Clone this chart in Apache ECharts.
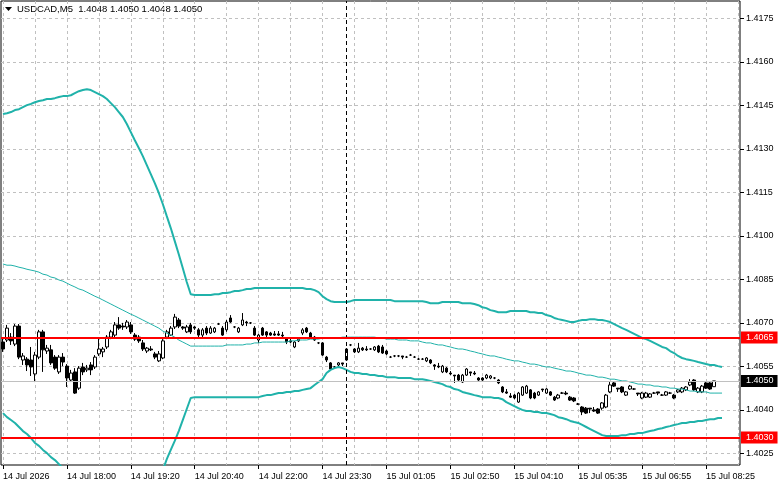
<!DOCTYPE html>
<html>
<head>
<meta charset="utf-8">
<script src="https://cdn.jsdelivr.net/npm/echarts@6/dist/echarts.min.js"></script>
<style>
  html, body { margin: 0; padding: 0; background: #fff; }
  #main { width: 781px; height: 489px; }
</style>
</head>
<body>
<div id="main"></div>
<script>
var myChart = echarts.init(document.getElementById('main'));

// USDCAD M5, bars are [open, close, low, high]
var candles = [
  [1.40634,1.40610,1.40600,1.40648],[1.40641,1.40682,1.40634,1.40693],[1.40651,1.40638,1.40624,1.40665],[1.40627,1.40689,1.40620,1.40696],[1.40689,1.40582,1.40575,1.40696],
  [1.40572,1.40586,1.40555,1.40596],[1.40575,1.40555,1.40534,1.40582],[1.40572,1.40548,1.40517,1.40617],[1.40524,1.40589,1.40496,1.40600],[1.40582,1.40669,1.40575,1.40676],
  [1.40669,1.40607,1.40531,1.40676],[1.40603,1.40613,1.40593,1.40624],[1.40607,1.40562,1.40555,1.40624],[1.40582,1.40544,1.40538,1.40589],[1.40531,1.40582,1.40524,1.40589],
  [1.40582,1.40565,1.40551,1.40596],[1.40551,1.40510,1.40479,1.40558],[1.40503,1.40527,1.40496,1.40538],[1.40531,1.40458,1.40455,1.40544],[1.40475,1.40544,1.40469,1.40551],
  [1.40548,1.40531,1.40520,1.40562],[1.40538,1.40544,1.40531,1.40555],[1.40555,1.40538,1.40520,1.40565],[1.40548,1.40582,1.40541,1.40589],[1.40593,1.40610,1.40586,1.40651],
  [1.40600,1.40610,1.40582,1.40617],[1.40617,1.40651,1.40610,1.40658],[1.40651,1.40669,1.40644,1.40676],[1.40658,1.40693,1.40651,1.40703],[1.40693,1.40682,1.40676,1.40720],
  [1.40689,1.40686,1.40676,1.40700],[1.40686,1.40703,1.40679,1.40710],[1.40693,1.40669,1.40662,1.40703],[1.40658,1.40644,1.40638,1.40665],[1.40651,1.40638,1.40631,1.40658],
  [1.40631,1.40610,1.40603,1.40641],[1.40603,1.40613,1.40596,1.40617],[1.40610,1.40607,1.40603,1.40620],[1.40593,1.40582,1.40575,1.40600],[1.40569,1.40593,1.40565,1.40603],
  [1.40579,1.40638,1.40575,1.40644],[1.40651,1.40669,1.40644,1.40676],[1.40658,1.40682,1.40655,1.40689],[1.40686,1.40720,1.40679,1.40731],[1.40710,1.40689,1.40682,1.40717],
  [1.40686,1.40682,1.40676,1.40689],[1.40669,1.40686,1.40665,1.40693],[1.40693,1.40669,1.40662,1.40700],[1.40686,1.40682,1.40676,1.40689],[1.40676,1.40658,1.40651,1.40682],
  [1.40658,1.40676,1.40651,1.40682],[1.40682,1.40665,1.40658,1.40689],[1.40665,1.40682,1.40662,1.40689],[1.40669,1.40682,1.40665,1.40686],[1.40696,1.40696,1.40693,1.40700],
  [1.40682,1.40658,1.40655,1.40689],[1.40676,1.40703,1.40669,1.40710],[1.40717,1.40703,1.40700,1.40727],[1.40686,1.40686,1.40682,1.40689],[1.40669,1.40682,1.40665,1.40686],
  [1.40693,1.40710,1.40689,1.40734],[1.40703,1.40700,1.40689,1.40707],[1.40700,1.40700,1.40696,1.40703],[1.40682,1.40658,1.40655,1.40689],[1.40641,1.40658,1.40631,1.40662],
  [1.40682,1.40658,1.40655,1.40686],[1.40669,1.40658,1.40651,1.40672],[1.40665,1.40658,1.40655,1.40669],[1.40662,1.40658,1.40655,1.40672],[1.40662,1.40658,1.40655,1.40672],
  [1.40658,1.40655,1.40651,1.40669],[1.40648,1.40634,1.40627,1.40651],[1.40638,1.40634,1.40631,1.40648],[1.40617,1.40634,1.40613,1.40638],[1.40638,1.40644,1.40634,1.40651],
  [1.40665,1.40676,1.40658,1.40682],[1.40682,1.40669,1.40665,1.40686],[1.40665,1.40651,1.40648,1.40669],[1.40651,1.40641,1.40638,1.40655],[1.40631,1.40631,1.40627,1.40634],
  [1.40631,1.40589,1.40586,1.40634],[1.40582,1.40572,1.40565,1.40586],[1.40562,1.40541,1.40538,1.40565],[1.40548,1.40548,1.40544,1.40551],[1.40555,1.40562,1.40551,1.40565],
  [1.40562,1.40558,1.40551,1.40562],[1.40572,1.40610,1.40569,1.40613],[1.40624,1.40624,1.40620,1.40627],[1.40610,1.40600,1.40596,1.40613],[1.40600,1.40613,1.40596,1.40631],
  [1.40613,1.40607,1.40603,1.40617],[1.40610,1.40607,1.40603,1.40620],[1.40610,1.40610,1.40607,1.40613],[1.40607,1.40617,1.40603,1.40620],[1.40620,1.40600,1.40596,1.40624],
  [1.40617,1.40596,1.40593,1.40624],[1.40603,1.40593,1.40589,1.40607],[1.40582,1.40582,1.40579,1.40586],[1.40586,1.40586,1.40582,1.40589],[1.40586,1.40586,1.40582,1.40589],
  [1.40586,1.40582,1.40575,1.40586],[1.40582,1.40582,1.40579,1.40586],[1.40589,1.40589,1.40586,1.40593],[1.40582,1.40582,1.40579,1.40586],[1.40575,1.40575,1.40572,1.40579],
  [1.40575,1.40575,1.40572,1.40579],[1.40569,1.40579,1.40565,1.40582],[1.40572,1.40562,1.40558,1.40575],[1.40555,1.40551,1.40538,1.40558],[1.40551,1.40548,1.40544,1.40562],
  [1.40531,1.40551,1.40527,1.40555],[1.40544,1.40531,1.40527,1.40548],[1.40527,1.40524,1.40520,1.40534],[1.40520,1.40517,1.40493,1.40520],[1.40520,1.40503,1.40500,1.40524],
  [1.40496,1.40520,1.40493,1.40524],[1.40520,1.40541,1.40517,1.40544],[1.40531,1.40527,1.40517,1.40531],[1.40527,1.40524,1.40520,1.40534],[1.40510,1.40503,1.40500,1.40513],
  [1.40510,1.40503,1.40500,1.40513],[1.40510,1.40520,1.40506,1.40524],[1.40510,1.40517,1.40506,1.40520],[1.40510,1.40510,1.40506,1.40513],[1.40503,1.40493,1.40489,1.40506],
  [1.40479,1.40462,1.40458,1.40482],[1.40462,1.40458,1.40455,1.40472],[1.40448,1.40444,1.40441,1.40458],[1.40451,1.40441,1.40437,1.40455],[1.40427,1.40458,1.40424,1.40462],
  [1.40451,1.40479,1.40448,1.40482],[1.40458,1.40482,1.40455,1.40486],[1.40469,1.40441,1.40437,1.40472],[1.40458,1.40441,1.40437,1.40462],[1.40451,1.40462,1.40448,1.40465],
  [1.40472,1.40469,1.40462,1.40472],[1.40458,1.40472,1.40455,1.40475],[1.40462,1.40451,1.40448,1.40465],[1.40444,1.40434,1.40431,1.40448],[1.40441,1.40451,1.40437,1.40455],
  [1.40458,1.40458,1.40455,1.40462],[1.40458,1.40455,1.40451,1.40465],[1.40444,1.40434,1.40431,1.40448],[1.40441,1.40431,1.40427,1.40444],[1.40420,1.40420,1.40417,1.40424],
  [1.40410,1.40393,1.40382,1.40413],[1.40406,1.40389,1.40386,1.40410],[1.40406,1.40403,1.40389,1.40406],[1.40400,1.40396,1.40393,1.40410],[1.40403,1.40389,1.40386,1.40406],
  [1.40406,1.40424,1.40400,1.40427],[1.40410,1.40451,1.40406,1.40455],[1.40462,1.40486,1.40458,1.40496],[1.40493,1.40482,1.40479,1.40496],[1.40475,1.40472,1.40462,1.40475],
  [1.40479,1.40462,1.40458,1.40482],[1.40451,1.40462,1.40448,1.40465],[1.40472,1.40482,1.40469,1.40486],[1.40472,1.40472,1.40469,1.40475],[1.40458,1.40455,1.40448,1.40458],
  [1.40441,1.40458,1.40437,1.40462],[1.40444,1.40458,1.40441,1.40462],[1.40444,1.40455,1.40441,1.40458],[1.40458,1.40458,1.40455,1.40462],[1.40462,1.40458,1.40451,1.40462],
  [1.40451,1.40451,1.40448,1.40455],[1.40451,1.40462,1.40448,1.40465],[1.40458,1.40458,1.40455,1.40462],[1.40451,1.40441,1.40437,1.40455],[1.40462,1.40469,1.40458,1.40472],
  [1.40462,1.40475,1.40458,1.40479],[1.40469,1.40479,1.40465,1.40482],[1.40486,1.40496,1.40482,1.40506],[1.40503,1.40469,1.40465,1.40506],[1.40462,1.40475,1.40458,1.40479],
  [1.40462,1.40482,1.40458,1.40486],[1.40493,1.40475,1.40472,1.40496],[1.40493,1.40472,1.40469,1.40496],[1.40480,1.40500,1.40480,1.40500]
];

// bollinger bands (upper / middle / lower)
var upperBand = [
  1.41420,1.41423,1.41427,1.41434,1.41437,1.41444,1.41451,1.41455,1.41461,1.41465,
  1.41468,1.41472,1.41472,1.41475,1.41479,1.41482,1.41482,1.41485,1.41492,1.41499,
  1.41503,1.41506,1.41503,1.41496,1.41489,1.41482,1.41472,1.41458,1.41444,1.41427,
  1.41410,1.41386,1.41358,1.41330,1.41303,1.41275,1.41244,1.41213,1.41182,1.41148,
  1.41110,1.41068,1.41027,1.40982,1.40937,1.40889,1.40841,1.40799,1.40796,1.40796,
  1.40796,1.40796,1.40796,1.40799,1.40799,1.40803,1.40803,1.40806,1.40810,1.40810,
  1.40813,1.40817,1.40817,1.40820,1.40820,1.40820,1.40820,1.40820,1.40820,1.40820,
  1.40820,1.40820,1.40820,1.40820,1.40820,1.40820,1.40817,1.40817,1.40813,1.40806,
  1.40792,1.40782,1.40775,1.40772,1.40772,1.40772,1.40772,1.40775,1.40779,1.40779,
  1.40779,1.40779,1.40779,1.40779,1.40779,1.40779,1.40779,1.40779,1.40775,1.40775,
  1.40775,1.40775,1.40775,1.40775,1.40775,1.40775,1.40772,1.40768,1.40768,1.40768,
  1.40772,1.40772,1.40772,1.40772,1.40772,1.40768,1.40768,1.40768,1.40765,1.40761,
  1.40754,1.40751,1.40744,1.40741,1.40737,1.40737,1.40737,1.40741,1.40741,1.40741,
  1.40741,1.40741,1.40737,1.40737,1.40734,1.40734,1.40727,1.40724,1.40717,1.40713,
  1.40710,1.40707,1.40703,1.40703,1.40707,1.40710,1.40710,1.40713,1.40713,1.40710,
  1.40710,1.40707,1.40703,1.40696,1.40689,1.40682,1.40676,1.40669,1.40662,1.40655,
  1.40648,1.40644,1.40638,1.40631,1.40624,1.40617,1.40613,1.40603,1.40596,1.40586,
  1.40579,1.40575,1.40572,1.40569,1.40565,1.40562,1.40558,1.40555,1.40555,1.40551,
  1.40548
];
var middleBand = [
  1.40903,1.40899,1.40899,1.40896,1.40892,1.40889,1.40885,1.40882,1.40879,1.40875,
  1.40868,1.40865,1.40858,1.40855,1.40848,1.40844,1.40837,1.40830,1.40824,1.40817,
  1.40813,1.40806,1.40799,1.40792,1.40786,1.40779,1.40772,1.40765,1.40758,1.40751,
  1.40744,1.40737,1.40730,1.40724,1.40717,1.40710,1.40703,1.40696,1.40689,1.40682,
  1.40672,1.40665,1.40658,1.40651,1.40641,1.40634,1.40627,1.40620,1.40620,1.40620,
  1.40620,1.40620,1.40620,1.40620,1.40620,1.40620,1.40624,1.40624,1.40624,1.40624,
  1.40624,1.40627,1.40627,1.40631,1.40631,1.40634,1.40634,1.40634,1.40634,1.40634,
  1.40634,1.40634,1.40638,1.40638,1.40641,1.40641,1.40641,1.40644,1.40644,1.40644,
  1.40648,1.40648,1.40648,1.40648,1.40648,1.40651,1.40651,1.40651,1.40651,1.40651,
  1.40651,1.40651,1.40651,1.40651,1.40648,1.40648,1.40644,1.40644,1.40644,1.40641,
  1.40641,1.40641,1.40638,1.40638,1.40638,1.40634,1.40631,1.40631,1.40627,1.40624,
  1.40624,1.40620,1.40617,1.40613,1.40610,1.40610,1.40607,1.40603,1.40600,1.40596,
  1.40593,1.40589,1.40586,1.40586,1.40582,1.40579,1.40575,1.40572,1.40569,1.40569,
  1.40565,1.40562,1.40558,1.40558,1.40555,1.40551,1.40548,1.40548,1.40544,1.40541,
  1.40538,1.40534,1.40534,1.40531,1.40527,1.40524,1.40520,1.40520,1.40517,1.40513,
  1.40513,1.40510,1.40506,1.40506,1.40503,1.40500,1.40500,1.40496,1.40493,1.40489,
  1.40489,1.40486,1.40486,1.40482,1.40482,1.40479,1.40479,1.40475,1.40475,1.40472,
  1.40472,1.40469,1.40465,1.40465,1.40462,1.40462,1.40462,1.40458,1.40458,1.40458,
  1.40458
];
var lowerBand = [
  1.40389,1.40375,1.40365,1.40355,1.40341,1.40327,1.40317,1.40303,1.40286,1.40276,
  1.40262,1.40251,1.40237,1.40227,1.40213,1.40199,1.40185,1.40168,1.40151,1.40134,
  1.40120,1.40106,1.40096,1.40086,1.40079,1.40072,1.40068,1.40068,1.40068,1.40072,
  1.40075,1.40082,1.40089,1.40096,1.40106,1.40117,1.40127,1.40137,1.40148,1.40161,
  1.40192,1.40230,1.40262,1.40293,1.40327,1.40365,1.40403,1.40441,1.40444,1.40444,
  1.40444,1.40444,1.40444,1.40444,1.40444,1.40444,1.40444,1.40444,1.40444,1.40444,
  1.40444,1.40444,1.40444,1.40444,1.40444,1.40448,1.40451,1.40451,1.40455,1.40458,
  1.40458,1.40462,1.40462,1.40465,1.40465,1.40469,1.40472,1.40475,1.40486,1.40496,
  1.40506,1.40527,1.40538,1.40544,1.40548,1.40544,1.40538,1.40531,1.40527,1.40527,
  1.40524,1.40524,1.40520,1.40520,1.40517,1.40517,1.40513,1.40513,1.40513,1.40510,
  1.40510,1.40510,1.40510,1.40506,1.40506,1.40506,1.40503,1.40500,1.40496,1.40493,
  1.40489,1.40482,1.40479,1.40472,1.40469,1.40462,1.40458,1.40455,1.40451,1.40448,
  1.40444,1.40444,1.40444,1.40441,1.40441,1.40437,1.40427,1.40420,1.40413,1.40406,
  1.40400,1.40396,1.40396,1.40393,1.40393,1.40389,1.40389,1.40386,1.40382,1.40375,
  1.40372,1.40368,1.40362,1.40358,1.40355,1.40348,1.40341,1.40334,1.40327,1.40320,
  1.40313,1.40310,1.40310,1.40310,1.40310,1.40313,1.40313,1.40317,1.40317,1.40320,
  1.40320,1.40324,1.40327,1.40330,1.40334,1.40337,1.40341,1.40344,1.40348,1.40351,
  1.40355,1.40355,1.40358,1.40358,1.40362,1.40362,1.40365,1.40368,1.40368,1.40372,
  1.40372
];

var timeLabels = ['14 Jul 2026', '14 Jul 18:00', '14 Jul 19:20', '14 Jul 20:40', '14 Jul 22:00', '14 Jul 23:30',
  '15 Jul 01:05', '15 Jul 02:50', '15 Jul 04:10', '15 Jul 05:35', '15 Jul 06:55', '15 Jul 08:25'];
var priceTicks = [1.4025, 1.4040, 1.4055, 1.4070, 1.4085, 1.4100, 1.4115, 1.4130, 1.4145, 1.4160, 1.4175];
var levelPrices = [1.4065, 1.40305];
var levelTexts = ['1.4065', '1.4030'];
var bidPrice = 1.4050;
var separatorBar = 86;
var slotCount = 185; // bars + empty shift space on the right

var slots = [];
for (var i = 0; i < slotCount; i++) slots.push(String(i));

var font = 'Liberation Sans';
var bandColor = '#20b2aa';
var gridLine = { color: '#c0c0c0', type: [3, 3], width: 1 };

function priceTag(text, bg) {
  return {
    show: true, position: 'end', distance: 1, formatter: text,
    color: '#fff', backgroundColor: bg, padding: [2, 4, 1, 5],
    fontFamily: font, fontSize: 9
  };
}

var levelMarks = levelPrices.map(function (p, k) {
  return { yAxis: p, lineStyle: { color: '#ff0000', width: 2, type: 'solid' }, label: priceTag(levelTexts[k], '#ff0000') };
});

myChart.setOption({
  backgroundColor: '#fff',
  animation: false,
  grid: { left: 1, top: 1, width: 739, height: 464, show: true, borderColor: '#000', borderWidth: 1, backgroundColor: 'transparent' },
  graphic: [
    { type: 'polygon', shape: { points: [[5, 7], [12, 7], [8.5, 11]] }, style: { fill: '#000' } },
    { type: 'text', left: 17, top: 4, style: { text: 'USDCAD,M5  1.4048 1.4050 1.4048 1.4050', fill: '#000', font: '9.5px "Liberation Sans"' } }
  ],
  xAxis: {
    type: 'category',
    data: slots,
    boundaryGap: true,
    axisLine: { show: false },
    axisTick: { show: true, interval: 15, alignWithLabel: true, length: 4, lineStyle: { color: '#000' } },
    axisLabel: {
      interval: 15, align: 'left', margin: 7, color: '#000', fontFamily: font, fontSize: 9,
      formatter: function (v, idx) { return timeLabels[idx / 16] || ''; }
    },
    splitLine: { show: true, interval: 7, alignWithLabel: true, lineStyle: gridLine }
  },
  yAxis: {
    type: 'value',
    position: 'right',
    min: 1.40210,
    max: 1.41810,
    axisLine: { show: false },
    axisTick: { show: true, customValues: priceTicks, length: 4, lineStyle: { color: '#000' } },
    axisLabel: {
      customValues: priceTicks, margin: 6, color: '#000', fontFamily: font, fontSize: 9,
      formatter: function (v) { return v.toFixed(4); }
    },
    splitLine: { show: true, lineStyle: gridLine }
  },
  series: [
    {
      type: 'candlestick',
      name: 'USDCAD',
      data: candles,
      barWidth: 3,
      silent: true,
      itemStyle: { color: '#fff', color0: '#000', borderColor: '#000', borderColor0: '#000', borderColorDoji: '#000', borderWidth: 1 },
      markLine: {
        silent: true, symbol: ['none', 'none'], animation: false, precision: 5,
        data: [
          { yAxis: bidPrice, lineStyle: { color: '#c0c0c0', width: 1, type: 'solid' }, label: priceTag('1.4050', '#000') },
          { xAxis: String(separatorBar), lineStyle: { color: '#000', width: 1, type: [4, 3] }, label: { show: false } }
        ]
      }
    },
    { type: 'line', data: upperBand, showSymbol: false, silent: true, lineStyle: { color: bandColor, width: 2 } },
    {
      type: 'line', data: middleBand, showSymbol: false, silent: true, lineStyle: { color: bandColor, width: 1 },
      markLine: { silent: true, symbol: ['none', 'none'], animation: false, precision: 5, data: levelMarks }
    },
    { type: 'line', data: lowerBand, showSymbol: false, silent: true, lineStyle: { color: bandColor, width: 2 } }
  ]
});
</script>
</body>
</html>
